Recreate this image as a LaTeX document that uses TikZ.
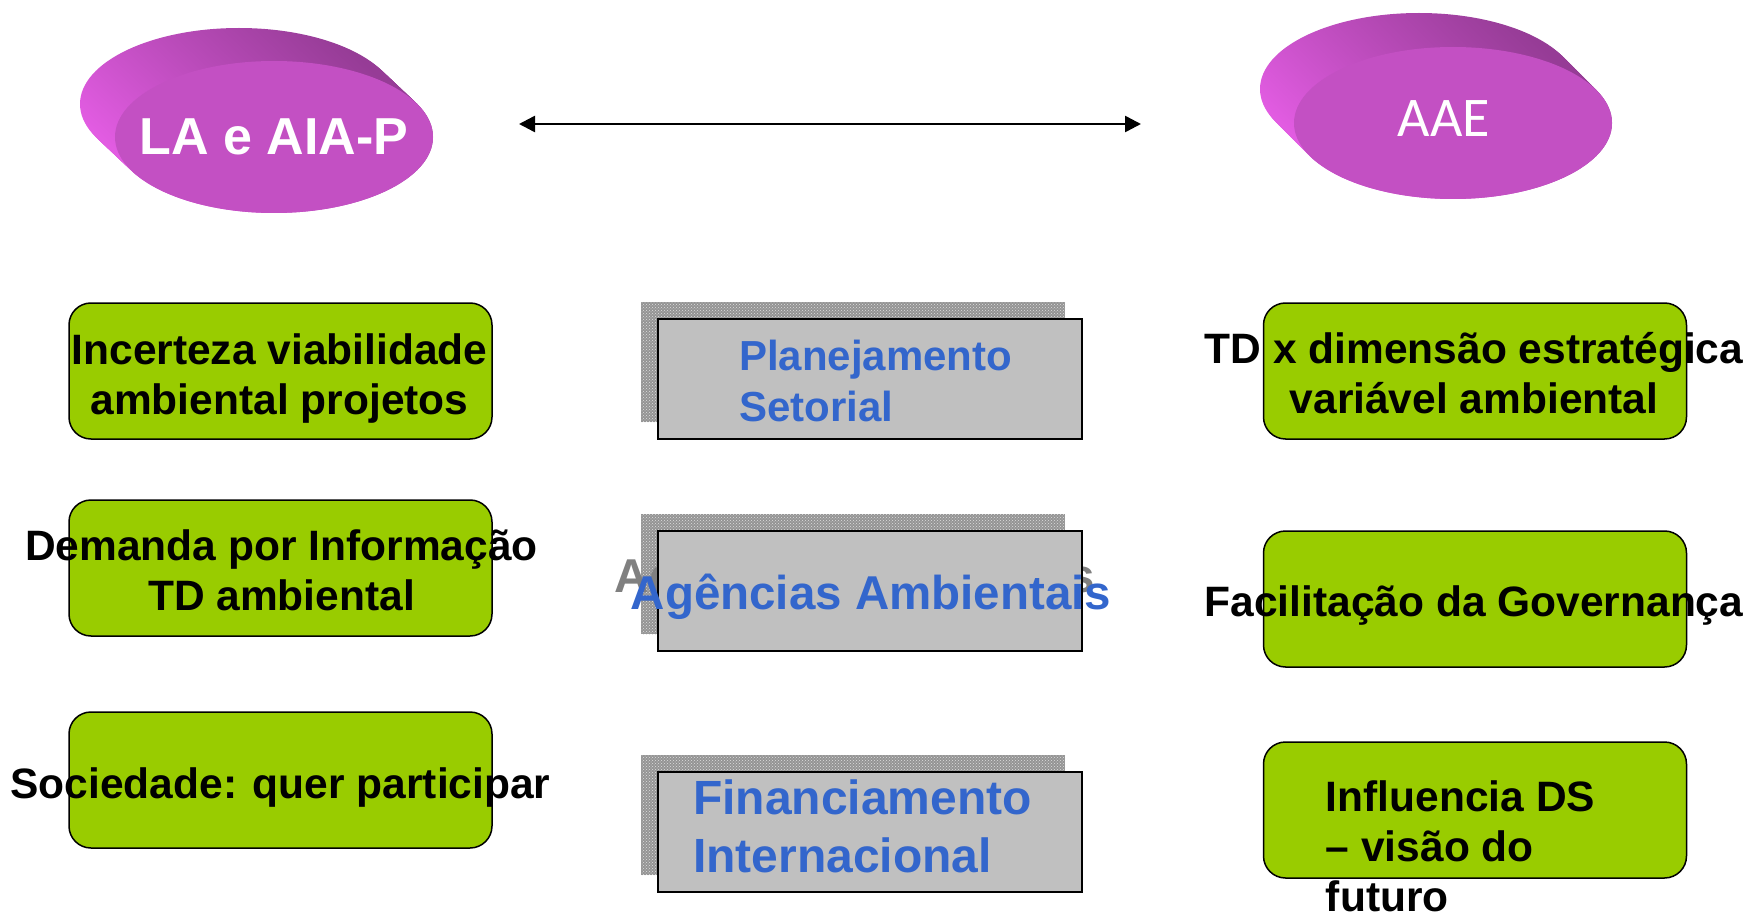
\documentclass[tikz,border=0pt]{standalone}
\usepackage{fontspec}
\setmainfont{Liberation Sans}
\newfontfamily\aaefont{Carlito}
\usetikzlibrary{shapes.geometric,arrows.meta,calc,patterns}
\definecolor{facepink}{HTML}{C350C3}
\definecolor{rimdark}{HTML}{963C96}
\definecolor{rimlight}{HTML}{E25CE2}
\definecolor{leafgreen}{HTML}{99CC00}
\definecolor{silverbox}{HTML}{C0C0C0}
\definecolor{shadowgray}{HTML}{949494}
\definecolor{textblue}{HTML}{3366CC}
\begin{document}
\begin{tikzpicture}[x=1pt,y=-1pt,
  face/.style={ellipse,fill=facepink,minimum width=318,minimum height=152,inner sep=0pt},
  facetext/.style={text=white,inner sep=0pt},
  greenbox/.style={draw=black,line width=1.5pt,fill=leafgreen,rounded corners=22pt,minimum width=423,minimum height=136,inner sep=0pt},
  greentext/.style={font=\fontsize{42.5}{50}\selectfont\bfseries,align=center,inner sep=0pt},
  graybox/.style={draw=black,line width=2pt,fill=silverbox,minimum width=424,minimum height=120,inner sep=0pt},
  shadowbox/.style={fill=shadowgray,postaction={pattern=crosshatch dots,pattern color=gray!25},minimum width=424,minimum height=120,inner sep=0pt},
  bluetext/.style={text=textblue,align=left,inner sep=0pt}]
\useasboundingbox (0,0) rectangle (1749,912);
% ellipses
\coordinate (lac) at (274,137);
\coordinate (aaec) at (1453,123);
\foreach \k in {0,...,20}
  \shade[top color=rimdark,bottom color=rimlight,shading angle=-40]
    ($(lac)+({-35+35*\k/20},{-33+33*\k/20})$) ellipse [x radius=159,y radius=76];
\foreach \k in {0,...,20}
  \shade[top color=rimdark,bottom color=rimlight,shading angle=-40]
    ($(aaec)+({-34+34*\k/20},{-34+34*\k/20})$) ellipse [x radius=159,y radius=76];
\node[face] (la) at (lac) {};
\node[facetext,font=\fontsize{52}{52}\selectfont\bfseries] at (la) {LA e AIA-P};
\node[face] (aae) at (aaec) {};
\node[facetext,font=\aaefont\fontsize{56}{56}\selectfont] at ($(aae)+(-9,-4)$) {AAE};
% arrow
\coordinate (arrL) at (519,124);
\coordinate (arrR) at (1141,124);
\draw[<->,>={Triangle[length=16pt,width=16pt]},line width=2.5pt] (arrL) -- (arrR);
% left column
\node[greenbox] (inc) at (280.5,371) {};
\node[greenbox] (dem) at (280.5,568) {};
\node[greenbox] (soc) at (280.5,780) {};
\node[greentext] at ($(inc)+(-1,8)$) {Incerteza viabilidade\\ambiental projetos};
\node[greentext] at ($(dem)+(1,2)$) {Demanda por Informação\\TD ambiental};
\node[greentext] at ($(soc)+(0,8)$) {Sociedade: quer participar};
% middle column
\coordinate (planc) at (870,379);
\coordinate (agenc) at (870,591);
\coordinate (finc) at (870,832);
\node[shadowbox] (plansh) at ($(planc)+(-17,-17)$) {};
\node[graybox] (plan) at (planc) {};
\node[bluetext,font=\fontsize{42}{51}\selectfont\bfseries,anchor=west] at ($(plan.west)+(82,2)$) {Planejamento\\Setorial};
\node[shadowbox] (agensh) at ($(agenc)+(-17,-17)$) {};
\node[text=gray,inner sep=0pt,font=\fontsize{47.5}{47.5}\selectfont\bfseries] at ($(agenc)+(-15,-11)$) {Agências Ambientais};
\node[graybox] (agen) at (agenc) {};
\node[bluetext,font=\fontsize{47.5}{47.5}\selectfont\bfseries] at ($(agen)+(1,6)$) {Agências Ambientais};
\node[shadowbox] (finsh) at ($(finc)+(-17,-17)$) {};
\node[graybox] (fin) at (finc) {};
\node[bluetext,font=\fontsize{48}{58}\selectfont\bfseries,anchor=west] at ($(fin.west)+(36,-6)$) {Financiamento\\Internacional};
% right column
\node[greenbox] (tdx) at (1475,371) {};
\node[greenbox] (fac) at (1475,599) {};
\node[greenbox] (infl) at (1475,810) {};
\node[greentext] at ($(tdx)+(-1,2)$) {TD x dimensão estratégica\\variável ambiental};
\node[greentext] at ($(fac)+(-1,7)$) {Facilitação da Governança};
\node[greentext,align=left,anchor=west] at ($(infl.west)+(63,36)$) {Influencia DS\\– visão do\\futuro};
\end{tikzpicture}
\end{document}
